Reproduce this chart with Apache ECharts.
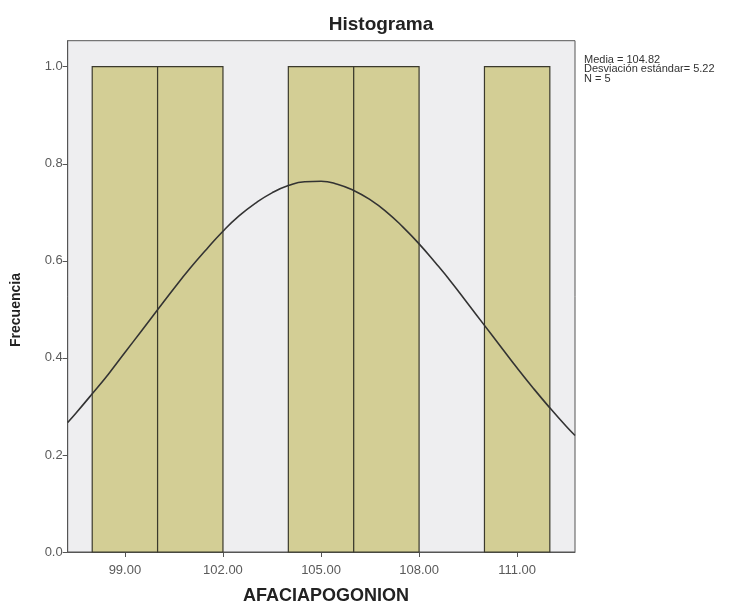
<!DOCTYPE html>
<html>
<head>
<meta charset="utf-8">
<script src="https://cdn.jsdelivr.net/npm/echarts@6/dist/echarts.min.js"></script>
<style>
  html, body { margin: 0; padding: 0; background: #fff; }
  #chart { width: 748px; height: 607px; }
</style>
</head>
<body>
<div id="chart"></div>
<script>
// Histogram bins (lower / upper edge) and their frequencies
const binStart = [98, 100, 104, 106, 110];
const binEnd = [100, 102, 106, 108, 112];
const frequency = [1, 1, 1, 1, 1];

// Normal reference curve points
const curveX = [97.25, 97.5, 98, 98.5, 99, 99.5, 100, 100.5, 101, 101.5, 102, 102.5, 103, 103.5,
  104, 104.5, 105, 105.5, 106, 106.5, 107, 107.5, 108, 108.5, 109, 109.5, 110, 110.5,
  111, 111.5, 112, 112.5, 112.77];
const curveY = [0.267, 0.286, 0.326, 0.367, 0.411, 0.455, 0.499, 0.543, 0.585, 0.624, 0.661, 0.693,
  0.719, 0.740, 0.755, 0.763, 0.764, 0.758, 0.745, 0.726, 0.701, 0.670, 0.635, 0.596,
  0.555, 0.511, 0.467, 0.423, 0.379, 0.337, 0.297, 0.259, 0.240];

// Axis tick values
const xTicks = [99, 102, 105, 108, 111];
const yTicks = [0, 0.2, 0.4, 0.6, 0.8, 1.0];

// Summary statistics shown beside the plot
const statLines = ['Media = 104.82', 'Desviación estándar= 5.22', 'N = 5'];

const chart = echarts.init(document.getElementById('chart'), null, { renderer: 'canvas' });

const barData = binStart.map((s, i) => [s, binEnd[i], frequency[i]]);
const curveData = curveX.map((x, i) => [x, curveY[i]]);

const tickLabelStyle = { color: '#5a5a5a', fontSize: 13, fontFamily: 'Liberation Sans, Arial, sans-serif' };

chart.setOption({
  animation: false,
  backgroundColor: '#ffffff',
  grid: {
    left: 67.7, right: 173, top: 40.7, bottom: 55,
    show: true, backgroundColor: '#EEEEF0', borderColor: '#555', borderWidth: 1
  },
  xAxis: {
    type: 'value', min: 97.25, max: 112.77,
    splitLine: { show: false },
    axisLine: { show: true, onZero: false, lineStyle: { color: '#555', width: 1 } },
    axisTick: { show: true, length: 5, customValues: xTicks, lineStyle: { color: '#555' } },
    axisLabel: Object.assign({ customValues: xTicks, margin: 12, formatter: v => v.toFixed(2) }, tickLabelStyle)
  },
  yAxis: {
    type: 'value', min: 0, max: 1.0536,
    splitLine: { show: false },
    axisLine: { show: true, lineStyle: { color: '#555', width: 1 } },
    axisTick: { show: true, length: 5, customValues: yTicks, lineStyle: { color: '#555' } },
    axisLabel: Object.assign({ customValues: yTicks, margin: 5, formatter: v => v.toFixed(1) }, tickLabelStyle)
  },
  series: [
    {
      type: 'custom',
      data: barData,
      encode: { x: [0, 1], y: 2 },
      renderItem: function (params, api) {
        const p0 = api.coord([api.value(0), 0]);
        const p1 = api.coord([api.value(1), api.value(2)]);
        return {
          type: 'rect',
          shape: { x: p0[0], y: p1[1], width: p1[0] - p0[0], height: p0[1] - p1[1] },
          style: { fill: '#D3CE95', stroke: '#3b3a2c', lineWidth: 1.2 }
        };
      },
      z: 2
    },
    {
      type: 'line',
      data: curveData,
      smooth: 0.5,
      showSymbol: false,
      clip: true,
      lineStyle: { color: '#333333', width: 1.6 },
      z: 3
    }
  ],
  graphic: [
    {
      type: 'text', x: 381, y: 25,
      style: {
        text: 'Histograma', align: 'center', verticalAlign: 'middle',
        font: 'bold 19px "Liberation Sans", Arial, sans-serif', fill: '#222'
      }
    },
    {
      type: 'text', x: 326, y: 596,
      style: {
        text: 'AFACIAPOGONION', align: 'center', verticalAlign: 'middle',
        font: 'bold 18px "Liberation Sans", Arial, sans-serif', fill: '#222'
      }
    },
    {
      type: 'text', x: 16, y: 310, rotation: Math.PI / 2,
      style: {
        text: 'Frecuencia', align: 'center', verticalAlign: 'middle',
        font: 'bold 14px "Liberation Sans", Arial, sans-serif', fill: '#222'
      }
    },
    {
      type: 'text', x: 584, y: 55,
      style: {
        text: statLines.join('\n'), lineHeight: 9.5,
        font: '11px "Liberation Sans", Arial, sans-serif', fill: '#333'
      }
    }
  ]
});
</script>
</body>
</html>
